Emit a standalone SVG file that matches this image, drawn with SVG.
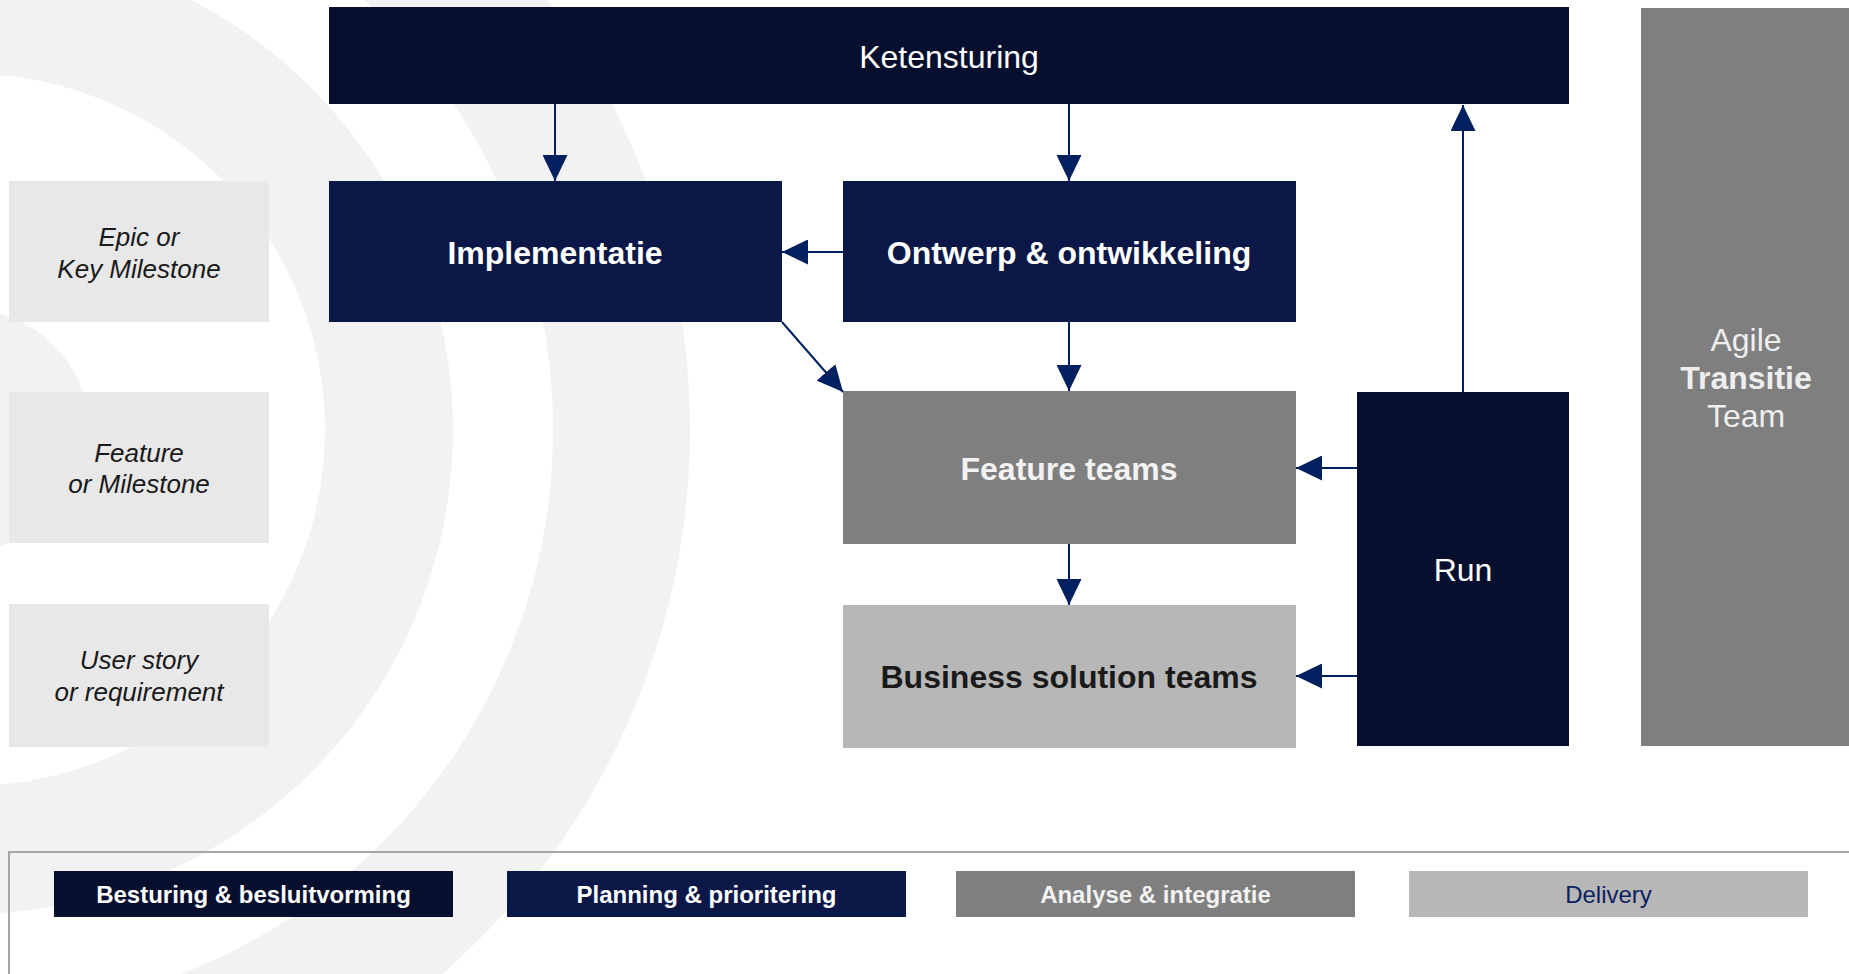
<svg xmlns="http://www.w3.org/2000/svg" width="1849" height="974" viewBox="0 0 1849 974">
  <style>
    text { font-family: "Liberation Sans", Arial, sans-serif; text-anchor: middle; }
    .ring { fill: none; stroke: #f2f2f2; }
    .lbl { fill: #e8e8e8; }
    .lbltxt { font-size: 26px; font-style: italic; fill: #1a1a1a; }
    .dark { fill: #070f2e; }
    .navy { fill: #0b1746; }
    .mid { fill: #7f7f7f; }
    .light { fill: #b7b7b7; }
    .big { font-size: 32px; }
    .b { font-weight: bold; }
    .wt { fill: #ffffff; }
    .leg { font-size: 24px; }
    .conn { stroke: #002060; stroke-width: 2; fill: none; marker-end: url(#ah); }
  </style>
  <defs>
    <marker id="ah" markerUnits="userSpaceOnUse" markerWidth="26" markerHeight="25" refX="26" refY="12.5" orient="auto">
      <path d="M0,0 L26,12.5 L0,25 Z" fill="#002060"/>
    </marker>
  </defs>
  <rect width="1849" height="974" fill="#ffffff"/>
  <g id="background">
    <circle class="ring" cx="-31" cy="430" r="652.5" stroke-width="137"/>
    <circle class="ring" cx="-31" cy="430" r="420" stroke-width="128"/>
    <circle cx="-31" cy="430" r="120" fill="#f2f2f2"/>
  </g>
  <g id="label-epic">
    <rect class="lbl" x="9" y="181" width="260" height="141"/>
    <text class="lbltxt" x="139" y="246">Epic or</text>
    <text class="lbltxt" x="139" y="278">Key Milestone</text>
  </g>
  <g id="label-feature">
    <rect class="lbl" x="9" y="392" width="260" height="151"/>
    <text class="lbltxt" x="139" y="462">Feature</text>
    <text class="lbltxt" x="139" y="493">or Milestone</text>
  </g>
  <g id="label-userstory">
    <rect class="lbl" x="9" y="604" width="260" height="143"/>
    <text class="lbltxt" x="139" y="669">User story</text>
    <text class="lbltxt" x="139" y="701">or requirement</text>
  </g>
  <g id="ketensturing">
    <rect class="dark" x="329" y="7" width="1240" height="97"/>
    <text class="big wt" x="949" y="68">Ketensturing</text>
  </g>
  <g id="implementatie">
    <rect class="navy" x="329" y="181" width="453" height="141"/>
    <text class="big b wt" x="555" y="264">Implementatie</text>
  </g>
  <g id="ontwerp">
    <rect class="navy" x="843" y="181" width="453" height="141"/>
    <text class="big b wt" x="1069" y="264">Ontwerp &amp; ontwikkeling</text>
  </g>
  <g id="feature-teams">
    <rect class="mid" x="843" y="391" width="453" height="153"/>
    <text class="big b" fill="#f2f2f2" x="1069" y="480">Feature teams</text>
  </g>
  <g id="business-solution-teams">
    <rect class="light" x="843" y="605" width="453" height="143"/>
    <text class="big b" fill="#1a1a1a" x="1069" y="688">Business solution teams</text>
  </g>
  <g id="run">
    <rect class="dark" x="1357" y="392" width="212" height="354"/>
    <text class="big wt" x="1463" y="581">Run</text>
  </g>
  <g id="agile-transitie-team">
    <rect class="mid" x="1641" y="8" width="208" height="738"/>
    <text class="big" fill="#eeeeee" x="1746" y="351">Agile</text>
    <text class="big b" fill="#eeeeee" x="1746" y="389">Transitie</text>
    <text class="big" fill="#eeeeee" x="1746" y="427">Team</text>
  </g>
  <g id="connectors">
    <line class="conn" x1="555" y1="104" x2="555" y2="181"/>
    <line class="conn" x1="1069" y1="104" x2="1069" y2="181"/>
    <line class="conn" x1="1463" y1="392" x2="1463" y2="105"/>
    <line class="conn" x1="843" y1="252" x2="782" y2="252"/>
    <line class="conn" x1="782" y1="322" x2="843" y2="392"/>
    <line class="conn" x1="1069" y1="322" x2="1069" y2="391"/>
    <line class="conn" x1="1069" y1="544" x2="1069" y2="605"/>
    <line class="conn" x1="1357" y1="468" x2="1296" y2="468"/>
    <line class="conn" x1="1357" y1="676" x2="1296" y2="676"/>
  </g>
  <g id="legend">
    <rect x="9" y="852" width="1860" height="140" fill="none" stroke="#a6a6a6" stroke-width="2"/>
    <g id="legend-besturing">
      <rect class="dark" x="54" y="871" width="399" height="46"/>
      <text class="leg b wt" x="253.5" y="903">Besturing &amp; besluitvorming</text>
    </g>
    <g id="legend-planning">
      <rect class="navy" x="507" y="871" width="399" height="46"/>
      <text class="leg b wt" x="706.5" y="903">Planning &amp; prioritering</text>
    </g>
    <g id="legend-analyse">
      <rect class="mid" x="956" y="871" width="399" height="46"/>
      <text class="leg b" fill="#f2f2f2" x="1155.5" y="903">Analyse &amp; integratie</text>
    </g>
    <g id="legend-delivery">
      <rect class="light" x="1409" y="871" width="399" height="46"/>
      <text class="leg" fill="#0b2160" x="1608.5" y="903">Delivery</text>
    </g>
  </g>
</svg>
